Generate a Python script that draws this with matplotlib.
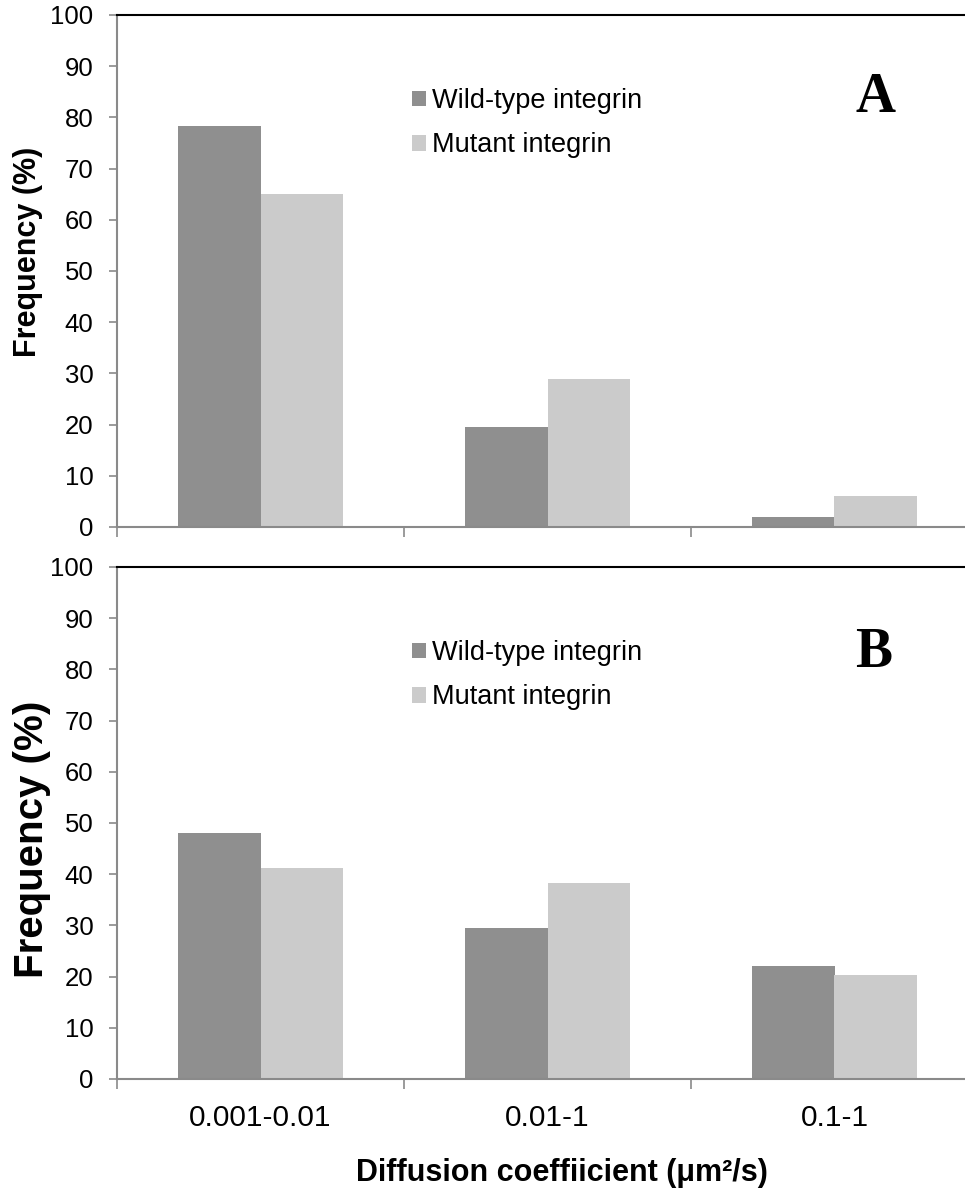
import matplotlib
matplotlib.use('Agg')
import matplotlib.pyplot as plt
import numpy as np

# data
categories = ['0.001-0.01', '0.01-1', '0.1-1']
series_names = ['Wild-type integrin', 'Mutant integrin']
wild_a = [78.3, 19.5, 2.0]
mutant_a = [65.0, 28.9, 6.0]
wild_b = [48.0, 29.5, 22.1]
mutant_b = [41.2, 38.2, 20.4]
yticks = list(range(0, 101, 10))

W, H = 965, 1191
GREY = '#8a8a8a'
plt.rcParams['font.family'] = ['Liberation Sans', 'DejaVu Sans']

fig = plt.figure(figsize=(W / 100, H / 100), dpi=100)


def panel(top, wild, mutant, show_labels):
    # axes runs past the right edge of the picture, like the original crop
    ax = fig.add_axes([117 / W, 1 - (top + 512) / H, 861 / W, 512 / H])
    x = np.arange(len(categories))
    bw = 0.286
    b1 = ax.bar(x - bw / 2, wild, bw, color='#8f8f8f', label=series_names[0])
    b2 = ax.bar(x + bw / 2, mutant, bw, color='#cbcbcb', label=series_names[1])
    ax.set_xlim(-0.5, 2.5)
    ax.set_ylim(0, 100)

    ax.spines['right'].set_visible(False)
    ax.spines['top'].set_color('black')
    ax.spines['top'].set_linewidth(1.5)
    for s in ['left', 'bottom']:
        ax.spines[s].set_color(GREY)
        ax.spines[s].set_linewidth(1.5)

    ax.set_yticks(yticks)
    ax.tick_params(axis='y', direction='out', length=6, width=1.2,
                   color=GREY, labelsize=18.5, pad=11)

    ax.set_xticks(np.arange(len(categories) + 1) - 0.5)
    ax.set_xticklabels([])
    ax.tick_params(axis='x', which='major', direction='out', length=7,
                   width=1.2, color=GREY)
    ax.set_xticks(x, minor=True)
    if show_labels:
        ax.set_xticklabels(categories, minor=True)
    ax.tick_params(axis='x', which='minor', length=0, labelsize=21.5, pad=18)

    ax.legend([b1, b2], series_names, loc='upper left',
              bbox_to_anchor=(412 / W, 1 - (top + 73) / H),
              bbox_transform=fig.transFigure, frameon=False, fontsize=19.5,
              handlelength=0.5, handleheight=0.5, handletextpad=0.25,
              labelspacing=0.68, borderpad=0, borderaxespad=0)
    return ax


panel(15, wild_a, mutant_a, False)
panel(567, wild_b, mutant_b, True)

fig.text(875 / W, 1 - 112 / H, 'A', family=['Liberation Serif'], weight='bold',
         fontsize=40, ha='center', va='baseline')
fig.text(874 / W, 1 - 667 / H, 'B', family=['Liberation Serif'], weight='bold',
         fontsize=40, ha='center', va='baseline')

fig.text(28 / W, 1 - 252 / H, 'Frequency (%)', rotation=90, ha='center',
         va='center', fontsize=22, weight='bold')
fig.text(32 / W, 1 - 839 / H, 'Frequency (%)', rotation=90, ha='center',
         va='center', fontsize=29, weight='bold')
fig.text(562 / W, 1 - 1173 / H, 'Diffusion coeffiicient (\u03bcm\u00b2/s)',
         ha='center', va='center', fontsize=22, weight='bold')

fig.savefig('out.png', dpi=100)
